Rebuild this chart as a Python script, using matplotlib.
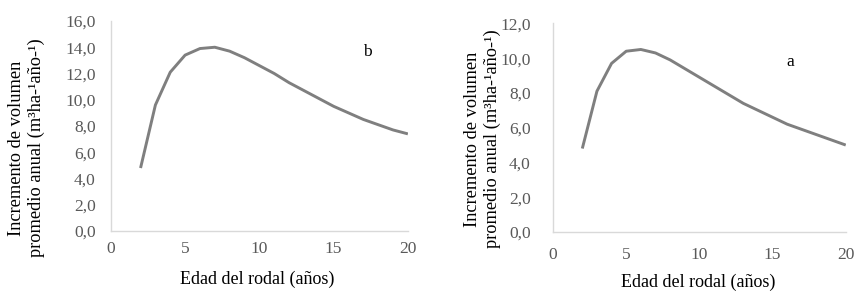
import matplotlib
matplotlib.use("Agg")
import matplotlib.pyplot as plt
from matplotlib.ticker import FuncFormatter

plt.rcParams['font.family'] = ['Liberation Serif', 'DejaVu Serif']

ages = list(range(2, 21))
series_b = [4.8, 9.6, 12.1, 13.4, 13.9, 14.0, 13.7, 13.2, 12.6, 12.0, 11.3, 10.7,
            10.1, 9.5, 9.0, 8.5, 8.1, 7.7, 7.4]
series_a = [4.8, 8.1, 9.7, 10.4, 10.5, 10.3, 9.9, 9.4, 8.9, 8.4, 7.9, 7.4,
            7.0, 6.6, 6.2, 5.9, 5.6, 5.3, 5.0]
x_ticks = [0, 5, 10, 15, 20]
yticks_b = [0, 2, 4, 6, 8, 10, 12, 14, 16]
yticks_a = [0, 2, 4, 6, 8, 10, 12]
xlabel = "Edad del rodal (años)"
ylabel = "Incremento de volumen\npromedio anual (m³ha-¹año-¹)"

TEXT = "#595959"
LINE = "#7f7f7f"
AX = "#d9d9d9"

fig = plt.figure(figsize=(8.66, 3.04), dpi=100)
ax1 = fig.add_axes([0.128, 0.240, 0.343, 0.691])
ax2 = fig.add_axes([0.6386, 0.237, 0.338, 0.686])

fmt = FuncFormatter(lambda v, p: f"{v:.1f}".replace(".", ","))

cfg = [
    (ax1, series_b, yticks_b, "b", 17.3, 13.6, 7, 11, (0.493, -0.229), (-0.2845, 0.395)),
    (ax2, series_a, yticks_a, "a", 16.2, 9.8, 11, 16, (0.497, -0.244), (-0.242, 0.446)),
]

for ax, ys, yt, lab, lx, ly, xpad, ypad, xlc, ylc in cfg:
    ax.plot(ages, ys, color=LINE, lw=2.1, solid_capstyle='butt')
    ax.set_xlim(0, 20)
    ax.set_ylim(yt[0], yt[-1])
    ax.set_xticks(x_ticks)
    ax.set_yticks(yt)
    ax.yaxis.set_major_formatter(fmt)
    for s in ['top', 'right']:
        ax.spines[s].set_visible(False)
    for s in ['left', 'bottom']:
        ax.spines[s].set_color(AX)
        ax.spines[s].set_linewidth(1.0)
    ax.tick_params(length=0, colors=TEXT, labelsize=12.5)
    ax.tick_params(axis='x', pad=xpad)
    ax.tick_params(axis='y', pad=ypad)
    ax.set_xlabel(xlabel, fontsize=13, color="black", va='center')
    ax.xaxis.set_label_coords(*xlc)
    ax.set_ylabel(ylabel, fontsize=13.2, color="black", va='center', ha='center',
                  linespacing=1.2)
    ax.yaxis.set_label_coords(*ylc)
    ax.text(lx, ly, lab, fontsize=12.5, color="black", ha='center', va='center')

fig.savefig("out.png", dpi=100, facecolor='white')
